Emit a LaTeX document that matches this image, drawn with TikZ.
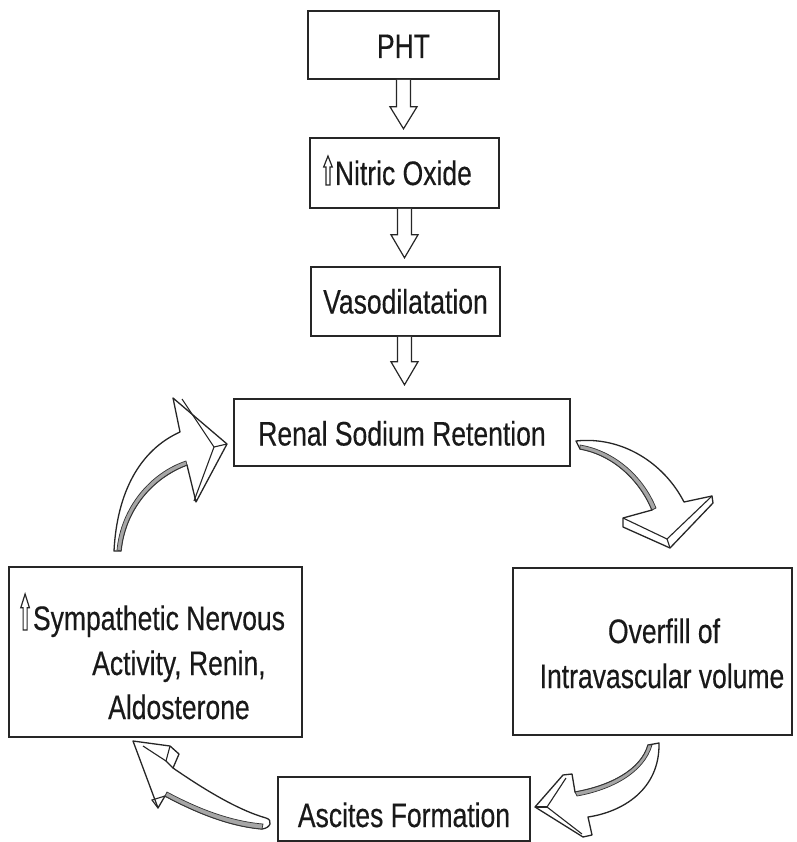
\documentclass[tikz,border=0pt]{standalone}
\usepackage{fontspec}
\setmainfont{Liberation Sans}[FakeStretch=0.78,FakeBold=0.35]
\usetikzlibrary{calc}
\newcommand\uparw[1]{\tikz[baseline=0pt,x=1pt,y=1pt]\draw[line width=1.2pt,black!85] (-2,0) -- (-2,#1*0.62) -- (-4.3,#1*0.62) -- (0,#1) -- (4.3,#1*0.62) -- (2,#1*0.62) -- (2,0) -- cycle;}
\begin{document}
\begin{tikzpicture}[x=1pt,y=-1pt,
  every node/.style={font=\fontsize{34}{42}\selectfont, text=black!90},
  box/.style={draw=black!85,line width=1.6pt,inner sep=0pt,text height=24pt,text depth=0pt},
  txt/.style={inner sep=0pt},
  blk/.style={draw=black!85,line width=1.2pt,fill=white,line join=miter},
  curv/.style={draw=black!85,line width=1.3pt,fill=white,line join=round},
  face/.style={draw=black!85,line width=1.1pt},
  band/.style={fill=black!35,draw=black!80,line width=0.7pt}]
\useasboundingbox (0,0) rectangle (796,842);

% boxes
\node[box,minimum width=191pt,minimum height=68pt,text height=26pt] (pht) at (403.5,45) {PHT};
\node[box,minimum width=189pt,minimum height=70pt] (no) at (404.5,173) {\uparw{29}\hspace{2pt}Nitric Oxide\hspace*{14pt}};
\node[box,minimum width=189pt,minimum height=69pt] (vaso) at (405.5,301.5) {Vasodilatation};
\node[box,minimum width=336pt,minimum height=67pt,text height=26pt] (renal) at (402,432.5) {Renal Sodium Retention};
\node[box,minimum width=293pt,minimum height=170pt] (symp) at (155.5,652) {};
\node[box,minimum width=279pt,minimum height=167pt] (over) at (652.5,651.5) {};
\node[box,minimum width=252pt,minimum height=64pt,text height=36pt] (asc) at (404,809) {Ascites Formation};

% multi-line texts
\node[txt,anchor=base west] (sympA) at (20,630) {\uparw{36}\hspace{3pt}Sympathetic Nervous};
\node[txt,anchor=base west] (sympB) at (92,675) {Activity, Renin,};
\node[txt,anchor=base west] (sympC) at (108,719) {Aldosterone};
\node[txt,anchor=base] (overA) at (664,643) {Overfill of};
\node[txt,anchor=base] (overB) at (662,688) {Intravascular volume};

% straight block arrows
\draw[blk] ([xshift=-7pt]pht.south) -- ++(0,27) -- ++(-6.5,0) -- ++(13.5,22) -- ++(13.5,-22) -- ++(-6.5,0) -- ([xshift=7pt]pht.south);
\draw[blk] ([xshift=-7pt]no.south) -- ++(0,26) -- ++(-6.5,0) -- ++(13.5,23) -- ++(13.5,-23) -- ++(-6.5,0) -- ([xshift=7pt]no.south);
\draw[blk] ([xshift=-8pt]vaso.south) -- ++(0,25) -- ++(-6.5,0) -- ++(13.5,23) -- ++(13.5,-23) -- ++(-6.5,0) -- ([xshift=6pt]vaso.south);

% curved arrow A : sympathetic -> renal
\draw[curv] (114,551) .. controls (117,492) and (140,450) .. (180,432) -- (173,398) -- (227,444) -- (196,502) -- (187,465) .. controls (152,478) and (125,510) .. (121,551) -- cycle;
\draw[band] (187,465) .. controls (152,478) and (125,510) .. (121,551) -- (117,550) .. controls (121,508) and (150,473) .. (186,461) -- cycle;
\draw[face] (182,399) -- (214,447) -- (194,501);
\draw[face] (214,447) -- (227,444);

% curved arrow B : renal -> overfill
\draw[curv] (576,441) .. controls (622,436) and (664,463) .. (684,502) -- (712,496) -- (713,503) -- (670,548) -- (623,527) -- (623,518) -- (652,510) .. controls (640,481) and (614,455) .. (580,449) -- cycle;
\draw[band] (580,449) .. controls (614,455) and (640,481) .. (652,510) -- (656,508) .. controls (644,478) and (616,451) .. (580,445) -- cycle;
\draw[face] (623,518) -- (667,539) -- (712,496);
\draw[face] (667,539) -- (670,548);

% curved arrow C : overfill -> ascites
\draw[curv] (659,743) .. controls (660,790) and (622,812) .. (588,817) -- (592,835) -- (583,837) -- (535,807) -- (563,775) -- (572,774) -- (575,792) .. controls (610,786) and (641,770) .. (648,745) -- cycle;
\draw[band] (575,792) .. controls (610,786) and (641,770) .. (648,745) -- (652,745) .. controls (644,773) and (611,790) .. (577,796) -- cycle;
\draw[face] (566,778) -- (547,807) -- (582,834);
\draw[face] (547,807) -- (535,807);

% curved arrow D : ascites -> sympathetic
\draw[curv] (133,741) -- (170,746) -- (179,754) -- (173,768) .. controls (205,790) and (238,810) .. (266,818) .. controls (273,820) and (271,828) .. (262,829) .. controls (228,826) and (195,812) .. (165,796) -- (158,808) -- cycle;
\draw[band] (262,829) .. controls (228,826) and (195,812) .. (165,796) -- (167,792) .. controls (197,808) and (229,821) .. (263,824) -- cycle;
\draw[face] (170,746) -- (166,761) -- (173,768);
\draw[face] (166,761) -- (143,746);
\draw[face] (165,796) -- (152,800) -- (158,808);
\end{tikzpicture}
\end{document}
